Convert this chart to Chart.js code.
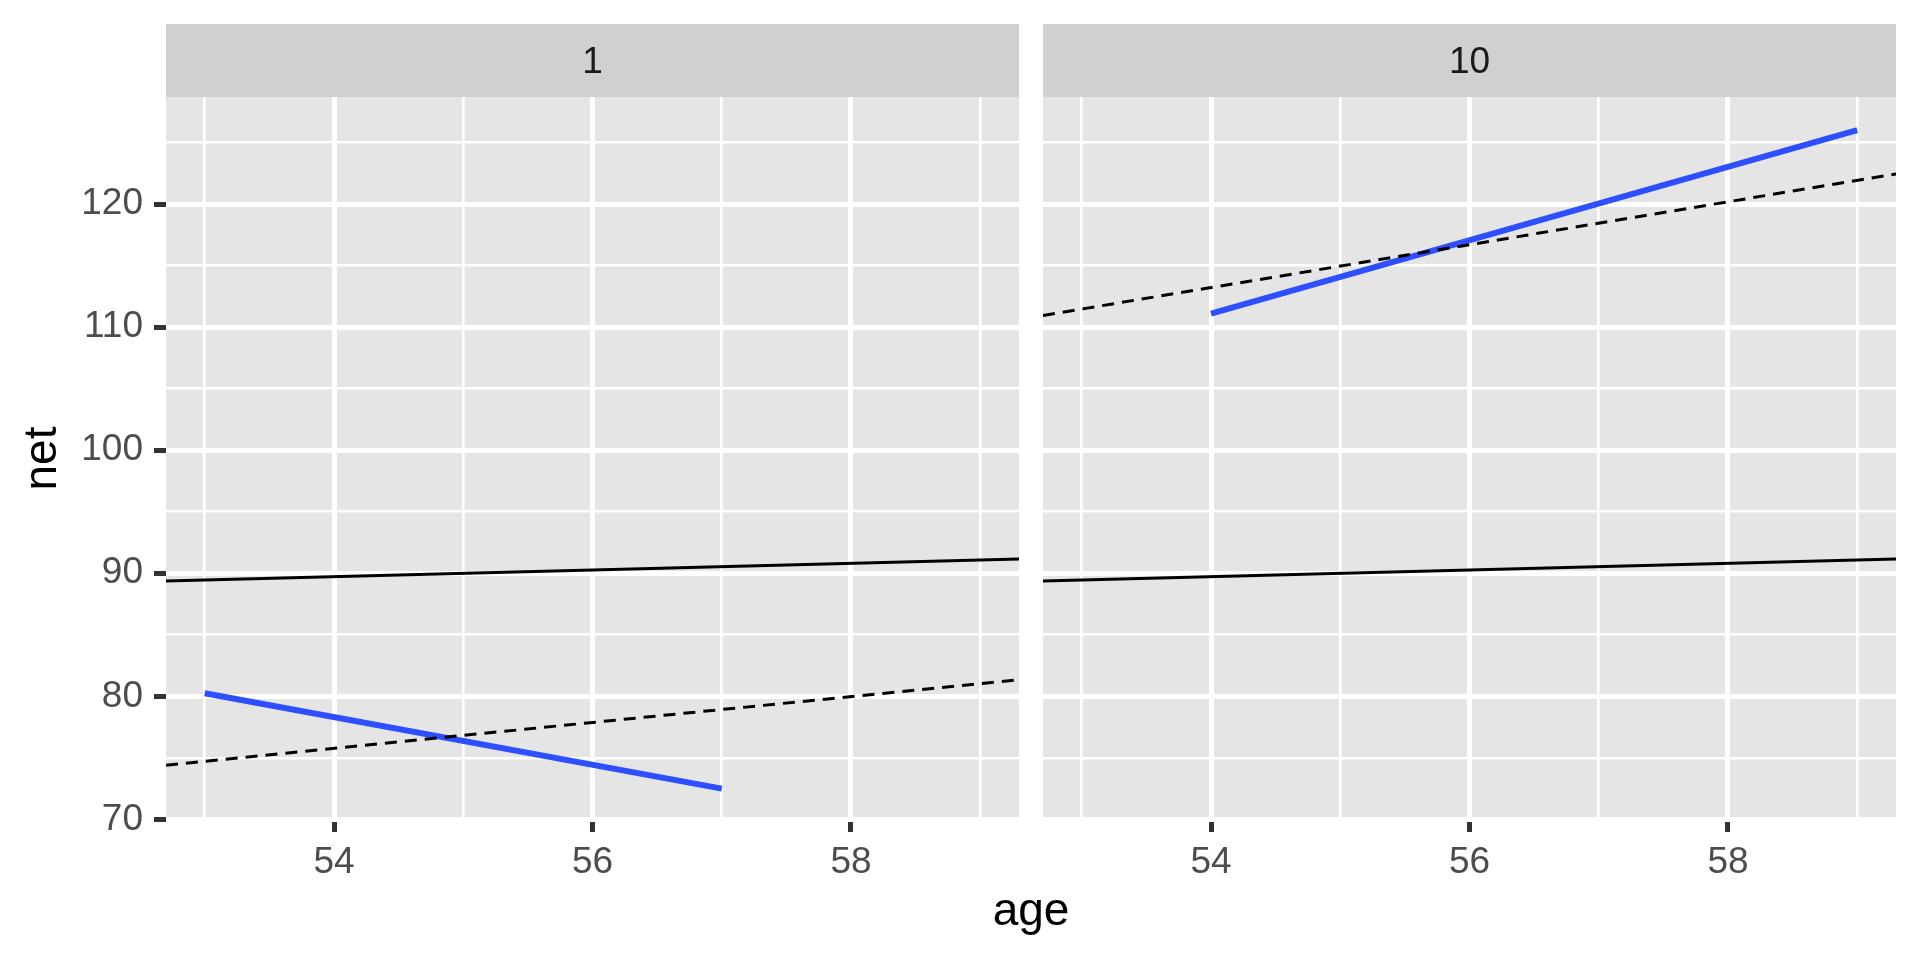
<!DOCTYPE html>
<html>
<head>
<meta charset="utf-8">
<script src="https://cdn.jsdelivr.net/npm/chart.js@4.4.1/dist/chart.umd.min.js"></script>
<style>
  html, body { margin: 0; padding: 0; background: #FFFFFF; }
  #wrap { position: relative; width: 1920px; height: 960px; overflow: hidden; background: #FFFFFF; }
  canvas { position: absolute; top: 0; }
  #xtitle { position: absolute; left: 1031px; top: 886px; transform: translateX(-50%);
            font-family: "Liberation Sans", Arial, sans-serif; font-size: 46px; line-height: 46px; color: #000000; white-space: nowrap; }
</style>
</head>
<body>
<div id="wrap">
  <canvas id="c1" width="1031" height="960" style="left:0px;width:1031px;height:960px"></canvas>
  <canvas id="c2" width="889" height="960" style="left:1031px;width:889px;height:960px"></canvas>
  <div id="xtitle">age</div>
</div>
<script>
// ---- data ----
const panelLabels = ['1', '10'];
const xMajorTicks = [54, 56, 58];
const xMinorTicks = [53, 55, 57, 59];
const yMajorTicks = [70, 80, 90, 100, 110, 120];
const yMinorTicks = [75, 85, 95, 105, 115, 125];
const xLimits = [52.7, 59.3];
const yLimits = [69.95, 128.7];

const refAge = [52.7, 59.3];
const solidNet = [89.37, 91.15];
const dashedNet1 = [74.4, 81.35];
const dashedNet10 = [110.95, 122.45];

const smoothAge1 = [53, 57];
const smoothNet1 = [80.25, 72.5];
const smoothAge10 = [54, 59];
const smoothNet10 = [111.1, 126.0];

// ---- helpers ----
const FONT = '"Liberation Sans", Arial, sans-serif';
Chart.defaults.font.family = FONT;

const pts = (xs, ys) => xs.map((x, i) => ({ x: x, y: ys[i] }));
const xTickVals = xMajorTicks.concat(xMinorTicks).sort((a, b) => a - b);
const yTickVals = yMajorTicks.concat(yMinorTicks).sort((a, b) => a - b);

const panelBg = {
  id: 'panelBg',
  beforeDraw(chart) {
    const a = chart.chartArea, ctx = chart.ctx;
    ctx.save();
    ctx.fillStyle = '#E5E5E5';
    ctx.fillRect(a.left, a.top, a.right - a.left, a.bottom - a.top);
    ctx.restore();
  }
};

const strip = {
  id: 'strip',
  afterDraw(chart, args, opts) {
    const a = chart.chartArea, ctx = chart.ctx;
    ctx.save();
    ctx.fillStyle = '#D0D0D0';
    ctx.fillRect(a.left, 24, a.right - a.left, a.top - 24);
    ctx.fillStyle = '#1A1A1A';
    ctx.font = '37px ' + FONT;
    ctx.textAlign = 'center';
    ctx.textBaseline = 'middle';
    ctx.fillText(opts.label, (a.left + a.right) / 2, 63);
    ctx.restore();
  }
};

function xScale() {
  return {
    type: 'linear',
    min: xLimits[0], max: xLimits[1],
    afterBuildTicks: s => { s.ticks = xTickVals.map(v => ({ value: v })); },
    afterFit: s => { s.height = 140; },
    border: { display: false },
    grid: {
      color: '#FFFFFF',
      lineWidth: c => (c.tick && xMajorTicks.includes(c.tick.value)) ? 5 : 2.6,
      tickColor: c => (c.tick && xMajorTicks.includes(c.tick.value)) ? '#333333' : 'rgba(0,0,0,0)',
      tickWidth: 5,
      tickLength: 12,
      drawTicks: true
    },
    ticks: {
      autoSkip: false, maxRotation: 0, minRotation: 0,
      padding: 9,
      color: '#4D4D4D',
      font: { size: 37 },
      callback: v => xMajorTicks.includes(v) ? String(v) : ''
    }
  };
}

function yScale(showAxis) {
  const y = {
    type: 'linear',
    min: yLimits[0], max: yLimits[1],
    afterBuildTicks: s => { s.ticks = yTickVals.map(v => ({ value: v })); },
    afterFit: s => { s.width = showAxis ? 166 : 0; },
    border: { display: false },
    grid: {
      color: '#FFFFFF',
      lineWidth: c => (c.tick && yMajorTicks.includes(c.tick.value)) ? 5 : 2.6,
      tickColor: c => (c.tick && yMajorTicks.includes(c.tick.value)) ? '#333333' : 'rgba(0,0,0,0)',
      tickWidth: 5,
      tickLength: 12,
      drawTicks: showAxis
    },
    ticks: {
      display: showAxis,
      autoSkip: false,
      padding: 11,
      color: '#4D4D4D',
      font: { size: 37 },
      callback: v => yMajorTicks.includes(v) ? String(v) : ''
    }
  };
  if (showAxis) {
    y.title = { display: true, text: 'net', color: '#000000', font: { size: 46 }, padding: { top: 16, bottom: 0 } };
  }
  return y;
}

function datasets(dashedNet, smoothAge, smoothNet) {
  return [
    { data: pts(refAge, dashedNet), borderColor: '#000000', borderWidth: 3, borderDash: [12, 8], pointRadius: 0, fill: false, tension: 0 },
    { data: pts(refAge, solidNet), borderColor: '#000000', borderWidth: 3, pointRadius: 0, fill: false, tension: 0 },
    { data: pts(smoothAge, smoothNet), borderColor: '#2D4FFF', borderWidth: 6, pointRadius: 0, fill: false, tension: 0 }
  ];
}

function makeChart(id, label, ds, showAxis, pad) {
  return new Chart(document.getElementById(id), {
    type: 'line',
    data: { datasets: ds },
    options: {
      responsive: false,
      animation: false,
      events: [],
      layout: { padding: pad },
      plugins: { legend: { display: false }, tooltip: { enabled: false }, strip: { label: label } },
      scales: { x: xScale(), y: yScale(showAxis) }
    },
    plugins: [panelBg, strip]
  });
}

makeChart('c1', panelLabels[0], datasets(dashedNet1, smoothAge1, smoothNet1), true,
          { top: 97, left: 0, right: 12, bottom: 0 });
makeChart('c2', panelLabels[1], datasets(dashedNet10, smoothAge10, smoothNet10), false,
          { top: 97, left: 12, right: 24, bottom: 0 });
</script>
</body>
</html>
